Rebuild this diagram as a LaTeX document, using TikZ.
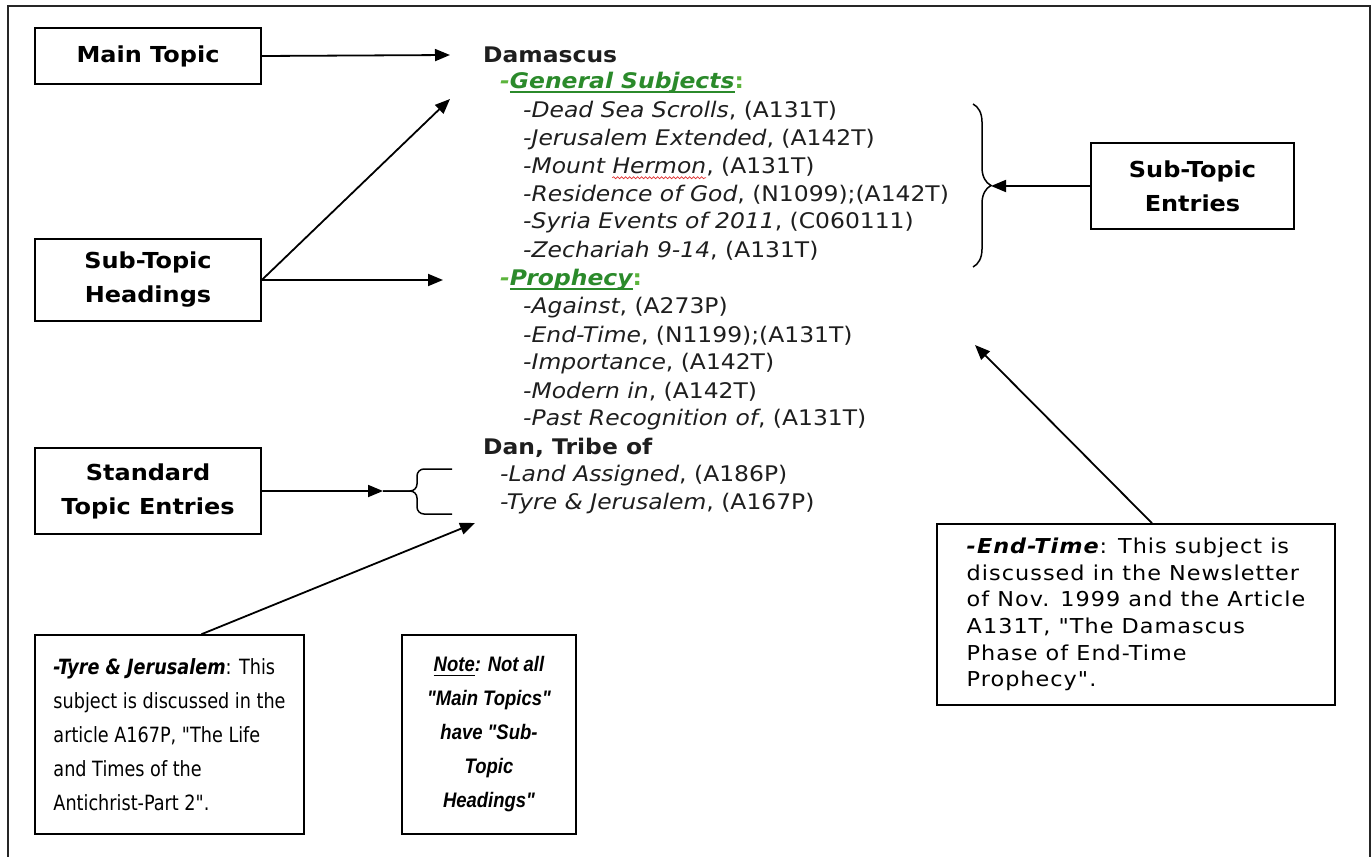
\documentclass[tikz,border=0pt]{standalone}
\usepackage{fontspec}
\setmainfont{DejaVu Sans}[FakeStretch=1.09]
\newfontfamily\tahomafont{DejaVu Sans}[FakeStretch=0.84]
\newfontfamily\narrowfont{Liberation Sans}[FakeStretch=0.88]
\newfontfamily\spacedfont{DejaVu Sans}[FakeStretch=1.09,LetterSpace=5]
\usepackage{tikz}
\usetikzlibrary{arrows.meta}
\usetikzlibrary{decorations.pathreplacing}
\usetikzlibrary{decorations.pathmorphing}
\definecolor{idxtext}{HTML}{1E1E1E}
\definecolor{headgreen}{HTML}{2B8A2B}
\definecolor{lightgreen}{HTML}{5CB43C}
\definecolor{spellred}{HTML}{E03030}
\newcommand{\thickul}[1]{\setbox0=\hbox{#1}\rlap{\vrule width\wd0 height-2.6pt depth3.9pt}\box0}
\newcommand{\subhead}[1]{{\bfseries\itshape\color{lightgreen}-{\color{headgreen}\thickul{#1}}\upshape:}}
\newlength{\hermonx}
\newlength{\hermonw}

\begin{document}
\settowidth{\hermonx}{\fontsize{21.5}{26}\selectfont\itshape -Mount }
\settowidth{\hermonw}{\fontsize{21.5}{26}\selectfont\itshape Hermon}
\begin{tikzpicture}[x=1pt,y=-1pt,>={Triangle[length=15pt,width=12pt]},
  label box/.style={draw,line width=1.6pt,minimum width=226pt,align=center,
    font=\bfseries\fontsize{22}{34}\selectfont},
  note box/.style={draw,line width=1.6pt,minimum height=199pt},
  idx line/.style={anchor=west,inner sep=0pt,text=idxtext,font=\fontsize{21.5}{26}\selectfont},
  pointer/.style={->,line width=1.8pt}]

\useasboundingbox (0,0) rectangle (1372,856);
\draw[line width=2pt,black!85] (8,6) rectangle (1370,880);

\node[label box,minimum height=56pt] (main) at (148,56) {Main Topic};
\node[label box,minimum height=82pt] (subhead) at (148,280) {Sub-Topic\\Headings};
\node[label box,minimum height=86pt] (std) at (148,491) {Standard\\Topic Entries};
\node[label box,minimum width=203pt,minimum height=86pt] (subent) at (1192.5,186) {Sub-Topic\\Entries};

\node[idx line,font=\bfseries\fontsize{21.5}{26}\selectfont] (dam) at (483,55) {Damascus};
\node[idx line] (gen) at (500,83) {\subhead{General Subjects}};
\foreach \nm/\cd [count=\i] in {Dead Sea Scrolls/(A131T), Jerusalem Extended/(A142T),
    Mount Hermon/(A131T), Residence of God/(N1099);(A142T),
    Syria Events of 2011/(C060111), Zechariah 9-14/(A131T)}
  \node[idx line] (g\i) at (523,{111+28*(\i-1)}) {\textit{-\nm}, \cd};
\draw[spellred,line width=0.7pt,decorate,decoration={snake,amplitude=1pt,segment length=4pt}]
  ([xshift=\hermonx,yshift=-4pt]g3.base west) -- ++(\hermonw,0);
\node[idx line] (pro) at (500,280) {\subhead{Prophecy}};
\foreach \nm/\cd [count=\i] in {Against/(A273P), End-Time/(N1199);(A131T),
    Importance/(A142T), Modern in/(A142T), Past Recognition of/(A131T)}
  \node[idx line] (p\i) at (523,{308+28*(\i-1)}) {\textit{-\nm}, \cd};
\node[idx line,font=\bfseries\fontsize{21.5}{26}\selectfont] (dan) at (483,448) {Dan, Tribe of};
\node[idx line] (land) at (500,476) {\textit{-Land Assigned}, (A186P)};
\node[idx line] (tyreln) at (500,504) {\textit{-Tyre \& Jerusalem}, (A167P)};

\draw[line width=1.5pt,decorate,decoration={brace,amplitude=18pt}] (973,104) -- (973,267);
\coordinate (rbtip) at (991,186);

\coordinate (lbtip) at (383,491);
\draw[line width=1.5pt,rounded corners=7pt] (452,469) -- (417,469) -- (417,491) -- (lbtip);
\draw[line width=1.5pt,rounded corners=7pt] (452,514) -- (417,514) -- (417,491) -- (lbtip);

\node[note box,minimum width=269pt,inner xsep=18pt,align=left,
  font=\tahomafont\fontsize{21}{34}\selectfont] (tyre) at (169.5,734.5)
  {\textbf{\textit{-Tyre \& Jerusalem}}: This\\subject is discussed in the\\article A167P, "The Life\\and Times of the\\Antichrist-Part 2".};
\node[note box,minimum width=174pt,inner xsep=10pt,align=center,
  font=\narrowfont\bfseries\itshape\fontsize{21}{34}\selectfont] (note) at (489,734.5)
  {\thickul{Note}: Not all\\"Main Topics"\\have "Sub-\\Topic\\Headings"};
\node[note box,minimum height=181pt,minimum width=398pt,inner xsep=21pt,align=left,
  font=\spacedfont\fontsize{20.5}{26.7}\selectfont] (endt) at (1136,614.5)
  {\textbf{\textit{-End-Time}}: This subject is\\discussed in the Newsletter\\of Nov. 1999 and the Article\\A131T, "The Damascus\\Phase of End-Time\\Prophecy".};

\coordinate (tMain) at (450,55);
\coordinate (tGen) at (450,99);
\coordinate (tPro) at (443,280);
\coordinate (tTyre) at (475,523);
\coordinate (tEnd) at (975,345);

\path[pointer]
(main.east)    edge (tMain)
(subhead.east) edge (tGen)
               edge (tPro)
(std.east)     edge (lbtip)
(subent.west)  edge (rbtip)
([xshift=32pt]tyre.north) edge (tTyre)
([xshift=16pt]endt.north) edge (tEnd);

\end{tikzpicture}
\end{document}
